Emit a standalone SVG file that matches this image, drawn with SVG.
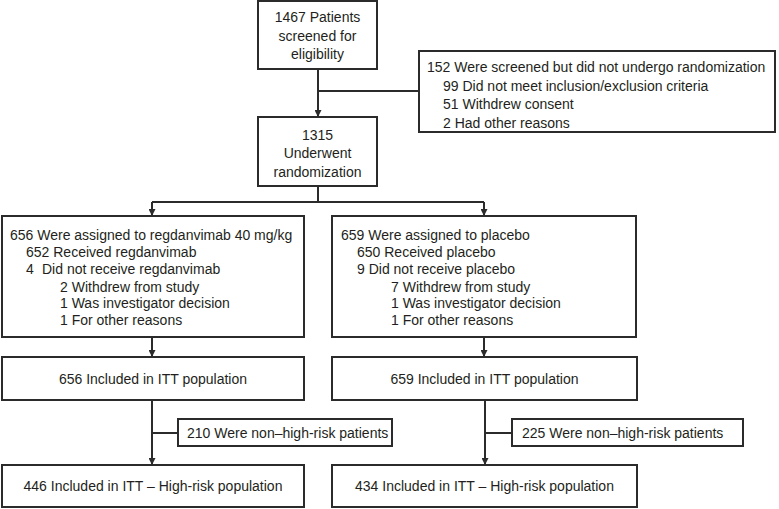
<svg xmlns="http://www.w3.org/2000/svg" width="779" height="509" viewBox="0 0 779 509">
<defs>
<style>
rect.b{fill:#fff;stroke:#2b2b2b;stroke-width:2}
text{font-family:"Liberation Sans",Arial,sans-serif;font-size:14px;fill:#231f20}
.c{text-anchor:middle}
.ln{fill:none;stroke:#2b2b2b;stroke-width:2}
</style>
<marker id="ah" viewBox="0 0 10 10" refX="10" refY="5" markerWidth="7" markerHeight="7" markerUnits="userSpaceOnUse" orient="auto"><path d="M0,0L10,5L0,10z" fill="#2b2b2b"/></marker>
</defs>
<rect width="779" height="509" fill="#fff"/>
<g id="connectors">
<path class="ln" d="M318,69V117" marker-end="url(#ah)"/>
<path class="ln" d="M318,91H419"/>
<path class="ln" d="M318,186V202"/>
<path class="ln" d="M152,202H484"/>
<path class="ln" d="M152,202V216" marker-end="url(#ah)"/>
<path class="ln" d="M484,202V216" marker-end="url(#ah)"/>
<path class="ln" d="M152,337V357" marker-end="url(#ah)"/>
<path class="ln" d="M484,337V357" marker-end="url(#ah)"/>
<path class="ln" d="M152,400V465" marker-end="url(#ah)"/>
<path class="ln" d="M152,433H178"/>
<path class="ln" d="M485,400V465" marker-end="url(#ah)"/>
<path class="ln" d="M485,433H512"/>
</g>
<g id="screened">
<rect class="b" x="258" y="1" width="119" height="68"/>
<text class="c" x="317.5" y="22">1467 Patients</text>
<text class="c" x="317.5" y="41">screened for</text>
<text class="c" x="317.5" y="59">eligibility</text>
</g>
<g id="excluded">
<rect class="b" x="419" y="51" width="356" height="81"/>
<text x="427" y="72">152 Were screened but did not undergo randomization</text>
<text x="443" y="91">99 Did not meet inclusion/exclusion criteria</text>
<text x="443" y="109">51 Withdrew consent</text>
<text x="443" y="128">2 Had other reasons</text>
</g>
<g id="randomized">
<rect class="b" x="258" y="117" width="119" height="69"/>
<text class="c" x="317.5" y="140">1315</text>
<text class="c" x="317.5" y="158">Underwent</text>
<text class="c" x="317.5" y="177">randomization</text>
</g>
<g id="regdanvimab">
<rect class="b" x="2" y="216" width="302" height="121"/>
<text x="10" y="240">656 Were assigned to regdanvimab 40 mg/kg</text>
<text x="26" y="257">652 Received regdanvimab</text>
<text y="274"><tspan x="26">4</tspan><tspan x="42">Did not receive regdanvimab</tspan></text>
<text x="60" y="292">2 Withdrew from study</text>
<text x="60" y="308">1 Was investigator decision</text>
<text x="60" y="325">1 For other reasons</text>
</g>
<g id="placebo">
<rect class="b" x="332" y="216" width="304" height="121"/>
<text x="341" y="240">659 Were assigned to placebo</text>
<text x="357" y="257">650 Received placebo</text>
<text x="357" y="274">9 Did not receive placebo</text>
<text x="391" y="292">7 Withdrew from study</text>
<text x="391" y="308">1 Was investigator decision</text>
<text x="391" y="325">1 For other reasons</text>
</g>
<g id="itt-left">
<rect class="b" x="2" y="357" width="302" height="43"/>
<text class="c" x="153" y="384">656 Included in ITT population</text>
</g>
<g id="itt-right">
<rect class="b" x="332" y="357" width="305" height="43"/>
<text class="c" x="484.5" y="384">659 Included in ITT population</text>
</g>
<g id="nonhr-left">
<rect class="b" x="178" y="419" width="214" height="27"/>
<text x="187" y="438">210 Were non–high-risk patients</text>
</g>
<g id="nonhr-right">
<rect class="b" x="512" y="419" width="231" height="27"/>
<text x="522" y="438">225 Were non–high-risk patients</text>
</g>
<g id="hr-left">
<rect class="b" x="2" y="465" width="302" height="42"/>
<text class="c" x="153" y="491">446 Included in ITT – High-risk population</text>
</g>
<g id="hr-right">
<rect class="b" x="332" y="465" width="305" height="42"/>
<text class="c" x="484.5" y="491">434 Included in ITT – High-risk population</text>
</g>
</svg>
